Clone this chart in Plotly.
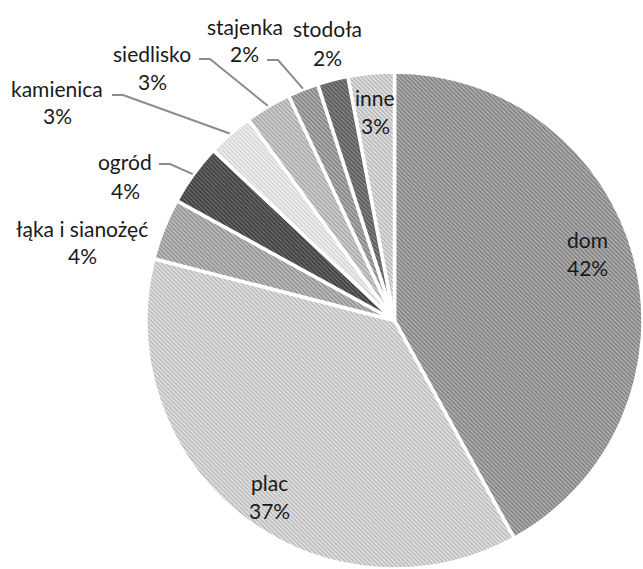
import math
import plotly.graph_objects as go

# Share of each category (percent), in clockwise order from 12 o'clock
labels = ["dom", "plac", "łąka i sianożęć", "ogród", "kamienica",
          "siedlisko", "stajenka", "stodoła", "inne"]
values = [42, 37, 4, 4, 3, 3, 2, 2, 3]

# Grey hatched fills: background and stripe tones per slice
bg_colors = ["#b4b4b4", "#e6e6e6", "#c2c2c2", "#6c6c6c", "#f2f2f2",
             "#d4d4d4", "#b6b6b6", "#888888", "#e6e6e6"]
fg_colors = ["#7e7e7e", "#b8b8b8", "#8e8e8e", "#3a3a3a", "#d2d2d2",
             "#a4a4a4", "#7e7e7e", "#545454", "#b4b4b4"]

W, H = 643, 569
CX, CY, R = 395, 321, 249          # pie centre / radius in pixels
FONT = "Lato"
FS = 21
LINE_GAP = 28                      # distance between the name and the percent line

# Slices labelled inside the pie: radius fraction and angular nudge (degrees)
inside = {"dom": (0.82, -5.0), "plac": (0.865, -2.3), "inne": (0.845, 0.0)}
# Label centres for slices labelled outside (pixels)
outside_pos = {
    "łąka i sianożęć": (82, 242),
    "ogród": (125, 176),
    "kamienica": (57, 102),
    "siedlisko": (152, 68),
    "stajenka": (245, 40),
    "stodoła": (327, 43),
}
# Where each leader line leaves its label (pixels); a short horizontal stub follows
leader_start = {
    "ogród": (159, 164),
    "kamienica": (112, 95),
    "siedlisko": (199, 59),
    "stajenka": (267, 60),
}
STUB = 11


def px(x):
    return x / W


def py(y):
    return 1 - y / H


def label_pair(x, y, name, pct):
    common = dict(xref="paper", yref="paper", showarrow=False,
                  xanchor="center", yanchor="middle",
                  font=dict(family=FONT, size=FS, color="#1a1a1a"))
    return [dict(x=px(x), y=py(y - LINE_GAP / 2), text=name, **common),
            dict(x=px(x), y=py(y + LINE_GAP / 2), text=pct, **common)]


total = sum(values)
fig = go.Figure()
fig.add_trace(go.Pie(
    labels=labels,
    values=values,
    sort=False,
    direction="clockwise",
    rotation=0,
    textinfo="none",
    hoverinfo="label+percent",
    showlegend=False,
    domain=dict(x=[(CX - R) / W, 1.0], y=[max(0.0, (H - CY - R) / H), (H - CY + R) / H]),
    marker=dict(
        colors=bg_colors,
        line=dict(color="white", width=3.5),
        pattern=dict(shape="\\", fgcolor=fg_colors, bgcolor=bg_colors,
                     size=3, solidity=0.5, fillmode="replace"),
    ),
))

annotations = []
shapes = []
cum = 0.0
for lab, v in zip(labels, values):
    frac = v / total
    mid = (cum + frac / 2) * 360.0
    cum += frac
    pct = f"{round(frac * 100)}%"
    if lab in inside:
        rf, nudge = inside[lab]
        a = math.radians(mid + nudge)
        x = CX + R * rf * math.sin(a)
        y = CY - R * rf * math.cos(a)
        annotations += label_pair(x, y, lab, pct)
    else:
        lx, ly = outside_pos[lab]
        annotations += label_pair(lx, ly, lab, pct)
        if lab in leader_start:
            a = math.radians(mid)
            ex = CX + (R + 1) * math.sin(a)
            ey = CY - (R + 1) * math.cos(a)
            sx, sy = leader_start[lab]
            path = (f"M {px(sx)} {py(sy)} L {px(sx + STUB)} {py(sy)} "
                    f"L {px(ex)} {py(ey)}")
            shapes.append(dict(type="path", path=path, xref="paper", yref="paper",
                               line=dict(color="#8c8c8c", width=2)))

fig.update_layout(
    width=W, height=H,
    margin=dict(l=0, r=0, t=0, b=0),
    paper_bgcolor="white",
    plot_bgcolor="white",
    font=dict(family=FONT, size=FS, color="#1a1a1a"),
    annotations=annotations,
    shapes=shapes,
)

fig.write_html("out.html")
